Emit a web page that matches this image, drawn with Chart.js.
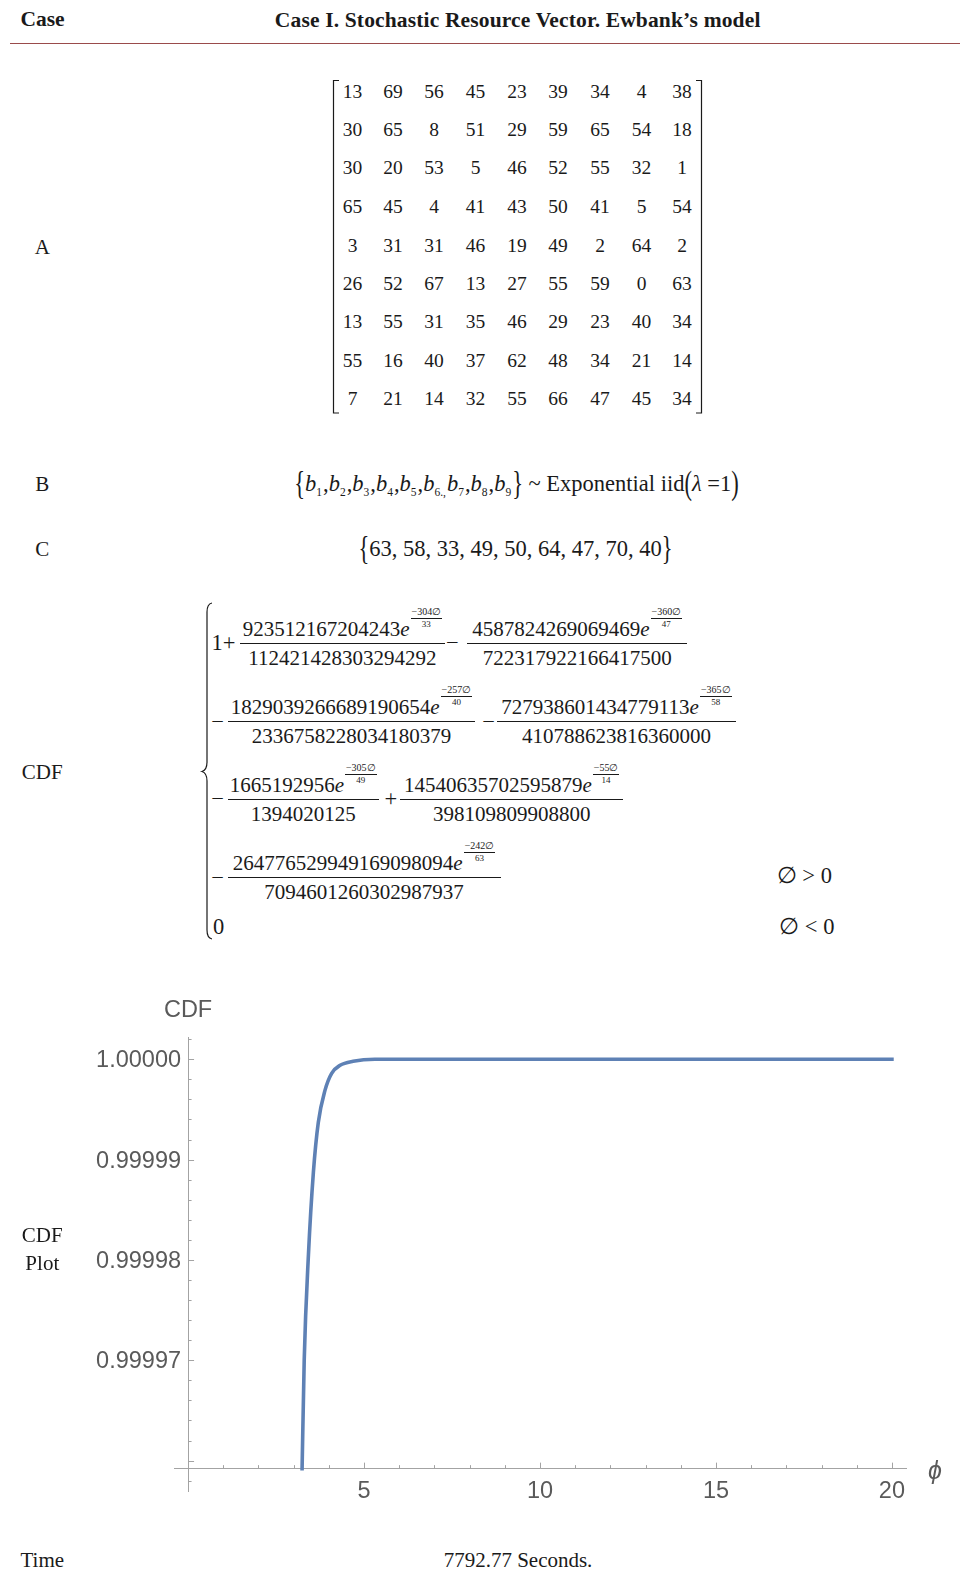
<!DOCTYPE html>
<html>
<head>
<meta charset="utf-8">
<title>Case I. Stochastic Resource Vector</title>
<script src="https://cdn.jsdelivr.net/npm/chart.js@4.4.1/dist/chart.umd.min.js"></script>
<style>
  html, body { margin: 0; padding: 0; background: #fff; }
  #page { position: relative; width: 963px; height: 1579px; overflow: hidden;
          font-family: "Liberation Serif", "Times New Roman", serif; color: #1a1a1a; }
  .t { position: absolute; white-space: nowrap; line-height: 1; transform: translate(-50%, -50%); }
  .head { font-weight: bold; font-size: 21.5px; }
  .title { letter-spacing: 0.15px; }
  .lbl { font-size: 21px; }
  .cell { font-size: 19.5px; }
  .math { font-size: 22.5px; }
  .frac { position: absolute; height: 0; border-top: 1px solid #1a1a1a; font-size: 21px; }
  .frac .num, .frac .den { position: absolute; left: 0; right: 0; text-align: center; white-space: nowrap; line-height: 1; }
  .frac .num { bottom: 4px; }
  .frac .den { top: 4px; }
  .ex { display: inline-block; vertical-align: 9px; font-size: 10px; line-height: 1; text-align: center; margin-left: 1px; }
  .ex span { display: block; }
  .ex .et { border-bottom: 1px solid #1a1a1a; padding: 0 1px 1px; }
  .ex .eb { padding-top: 1px; font-size: 9px; }
  sub { font-size: 11.5px; vertical-align: -5px; line-height: 0; margin-right: 1px; }
  .brace { display: inline-block; transform: scaleY(1.45); }
  #rule { position: absolute; left: 10px; top: 43px; width: 950px; height: 1px; background: #9a4b4b; }
  #marks { position: absolute; left: 0; top: 0; }
  #plot { position: absolute; left: 0; top: 960px; }
</style>
</head>
<body>
<div id="page">
  <div id="rule"></div>
  <svg id="marks" width="963" height="1000" fill="none" stroke="#1a1a1a" stroke-width="1.2">
    <path d="M339 80.5 H333.5 V413 H339"/>
    <path d="M696 80.5 H701.5 V413 H696"/>
    <path d="M212 603 Q207 604 207 612 V762 Q207 770 202 771.5 Q207 773 207 781 V930 Q207 938 212 939"/>
  </svg>
  <canvas id="plot" width="963" height="560"></canvas>
</div>
<script>
// resource matrix A, row by row
const matrixA = [
  [13, 69, 56, 45, 23, 39, 34, 4, 38],
  [30, 65, 8, 51, 29, 59, 65, 54, 18],
  [30, 20, 53, 5, 46, 52, 55, 32, 1],
  [65, 45, 4, 41, 43, 50, 41, 5, 54],
  [3, 31, 31, 46, 19, 49, 2, 64, 2],
  [26, 52, 67, 13, 27, 55, 59, 0, 63],
  [13, 55, 31, 35, 46, 29, 23, 40, 34],
  [55, 16, 40, 37, 62, 48, 34, 21, 14],
  [7, 21, 14, 32, 55, 66, 47, 45, 34]
];
const capacityC = [63, 58, 33, 49, 50, 64, 47, 70, 40];

// terms of the closed form CDF: numerator, exponent over/under, denominator
const cdfTerms = [
  ['923512167204243', '−304∅', '33', '112421428303294292'],
  ['4587824269069469', '−360∅', '47', '722317922166417500'],
  ['1829039266689190654', '−257∅', '40', '2336758228034180379'],
  ['727938601434779113', '−365∅', '58', '410788623816360000'],
  ['1665192956', '−305∅', '49', '1394020125'],
  ['14540635702595879', '−55∅', '14', '398109809908800'],
  ['264776529949169098094', '−242∅', '63', '7094601260302987937']
];

// sampled curve of the CDF against phi
const phiPoints = [3.24, 3.30, 3.42, 3.56, 3.70, 3.89, 4.08, 4.32, 4.69, 5.31, 20];
const cdfPoints = [0.9999592, 0.9999700, 0.9999805, 0.9999887, 0.9999937, 0.9999969,
                   0.9999986, 0.9999994, 0.9999998, 1.0, 1.0];
const xTickValues = [5, 10, 15, 20];
const yTickValues = [0.99997, 0.99998, 0.99999, 1.0];

const X_MIN = -0.4;
const X_MAX = 20.4;
const Y_MIN = 0.99995697;
const Y_MAX = 1.00000222;
const AXIS_Y = 0.9999592;
const LABEL_X = -0.2; // y labels sit a little left of the axis line
const CURVE_COLOR = '#5e81b5';
const AXIS_COLOR = '#a3a3a3';
const LABEL_COLOR = '#5a5a5a';
const TICK_FONT = {family: 'Liberation Sans', size: 23.5};

const page = document.getElementById('page');

/**
 * Places a piece of text centred on the given point.
 */
function put(html, x, y, cls) {
  const el = document.createElement('div');
  el.className = 't ' + (cls || '');
  el.innerHTML = html;
  el.style.left = x + 'px';
  el.style.top = y + 'px';
  page.appendChild(el);
  return el;
}

/**
 * Builds a fraction whose bar runs from left to right at height bar.
 */
function addFrac(term, left, right, bar) {
  const [num, eTop, eBot, den] = term;
  const el = document.createElement('div');
  el.className = 'frac';
  el.style.left = left + 'px';
  el.style.width = (right - left) + 'px';
  el.style.top = bar + 'px';
  el.innerHTML =
    '<div class="num">' + num + '<i>e</i><span class="ex"><span class="et">' + eTop +
    '</span><span class="eb">' + eBot + '</span></span></div>' +
    '<div class="den">' + den + '</div>';
  page.appendChild(el);
}

// header
put('Case', 42.5, 20, 'head');
put('Case I. Stochastic Resource Vector. Ewbank’s model', 517.7, 20.5, 'head title');

// left column labels
put('A', 42.3, 247, 'lbl');
put('B', 42.3, 483.5, 'lbl');
put('C', 42.3, 549, 'lbl');
put('CDF', 42.3, 771.6, 'lbl');
put('CDF', 42.3, 1235, 'lbl');
put('Plot', 42.3, 1263, 'lbl');
put('Time', 42.3, 1560, 'lbl');
put('7792.77 Seconds.', 518, 1560, 'lbl');

// matrix A
const colX = [352.5, 393, 434, 475.5, 517, 558, 600, 641.5, 682];
const rowY = [91.7, 130, 168, 206.5, 246, 284, 322, 360.6, 399];
matrixA.forEach((row, r) => {
  row.forEach((v, c) => put(String(v), colX[c], rowY[r], 'cell'));
});

// B: the random coefficients
const bList = [1, 2, 3, 4, 5, 6, 7, 8, 9]
  .map((k) => '<i>b</i><sub>' + k + (k === 6 ? '.,' : '') + '</sub>')
  .join(',').replace('.,</sub>,', '.,</sub>');
put('<span class="brace">{</span>' + bList + '<span class="brace">}</span> ~ Exponential iid' +
    '<span class="brace">(</span><i>λ</i> =1<span class="brace">)</span>', 516.5, 483.5, 'math');

// C: right hand side
put('<span class="brace">{</span>' + capacityC.join(', ') + '<span class="brace">}</span>',
    515.5, 549, 'math');

// piecewise CDF
put('1+', 223.6, 643, 'math');
addFrac(cdfTerms[0], 239.7, 445.2, 642.7);
put('−', 452.3, 643, 'math');
addFrac(cdfTerms[1], 467.4, 687, 642.7);
put('−', 217.6, 721.5, 'math');
addFrac(cdfTerms[2], 227.6, 475.4, 721.2);
put('−', 488.5, 721.5, 'math');
addFrac(cdfTerms[3], 496.6, 736.3, 721.2);
put('−', 217.6, 799, 'math');
addFrac(cdfTerms[4], 227.6, 378.7, 798.8);
put('+', 390.8, 799, 'math');
addFrac(cdfTerms[5], 399.9, 623.5, 798.8);
put('−', 217.6, 877.5, 'math');
addFrac(cdfTerms[6], 227.6, 500.6, 877.4);
put('∅ &gt; 0', 804.3, 876.3, 'math');
put('0', 218.6, 926.7, 'math');
put('∅ &lt; 0', 806.8, 926.7, 'math');

/**
 * Inward tick marks on both axes plus the axis captions.
 */
const axisDecor = {
  id: 'axisDecor',
  afterDraw(chart) {
    const {ctx, chartArea, scales: {x, y}} = chart;
    const x0 = x.getPixelForValue(0);
    const y0 = y.getPixelForValue(AXIS_Y);
    ctx.save();
    ctx.strokeStyle = AXIS_COLOR;
    ctx.lineWidth = 1;
    ctx.beginPath();
    // y ticks every 2e-6, major every 1e-5
    for (let k = 499979; k <= 500001; k++) {
      const py = Math.round(y.getPixelForValue(k * 2e-6)) + 0.5;
      const len = k % 5 === 0 ? 6 : 3.5;
      ctx.moveTo(x0, py);
      ctx.lineTo(x0 + len, py);
    }
    // x ticks every 1, major every 5
    for (let k = 1; k <= 20; k++) {
      const px = Math.round(x.getPixelForValue(k)) + 0.5;
      const len = k % 5 === 0 ? 6 : 3.5;
      ctx.moveTo(px, y0);
      ctx.lineTo(px, y0 - len);
    }
    ctx.stroke();

    ctx.fillStyle = LABEL_COLOR;
    ctx.textAlign = 'center';
    ctx.textBaseline = 'middle';
    ctx.font = '23.5px "Liberation Sans"';
    ctx.fillText('CDF', x0, chartArea.top - 26);
    ctx.font = 'italic 25px "Liberation Sans"';
    ctx.fillText('ϕ', chartArea.right + 29, y0 + 3);
    ctx.restore();
  },
};

new Chart(document.getElementById('plot'), {
  type: 'line',
  data: {
    datasets: [{
      data: phiPoints.map((p, i) => ({x: p, y: cdfPoints[i]})),
      yAxisID: 'y',
      borderColor: CURVE_COLOR,
      borderWidth: 3.6,
      borderCapStyle: 'square',
      pointRadius: 0,
      cubicInterpolationMode: 'monotone',
      fill: false,
    }],
  },
  options: {
    responsive: false,
    animation: false,
    devicePixelRatio: 1,
    layout: {padding: {left: 174, right: 57, top: 77, bottom: 29}},
    plugins: {legend: {display: false}, tooltip: {enabled: false}},
    scales: {
      x: {
        type: 'linear',
        min: X_MIN,
        max: X_MAX,
        position: {y: AXIS_Y},
        afterBuildTicks: (scale) => {
          scale.ticks = xTickValues.map((v) => ({value: v}));
        },
        grid: {display: true, drawOnChartArea: false, drawTicks: false},
        border: {display: true, color: AXIS_COLOR, width: 1},
        ticks: {
          color: LABEL_COLOR,
          font: TICK_FONT,
          padding: 8.5,
          maxRotation: 0,
          autoSkip: false,
        },
      },
      // the axis line itself, through phi = 0
      y: {
        type: 'linear',
        min: Y_MIN,
        max: Y_MAX,
        position: {x: 0},
        grid: {display: true, drawOnChartArea: false, drawTicks: false},
        border: {display: true, color: AXIS_COLOR, width: 1},
        ticks: {display: false},
      },
      // tick labels of the CDF axis
      yLabels: {
        axis: 'y',
        type: 'linear',
        min: Y_MIN,
        max: Y_MAX,
        position: {x: LABEL_X},
        afterBuildTicks: (scale) => {
          scale.ticks = yTickValues.map((v) => ({value: v}));
        },
        grid: {display: false, drawTicks: false},
        border: {display: false},
        ticks: {
          color: LABEL_COLOR,
          font: TICK_FONT,
          labelOffset: 1.5,
          autoSkip: false,
          callback: (v) => Number(v).toFixed(5),
        },
      },
    },
  },
  plugins: [axisDecor],
});
</script>
</body>
</html>
